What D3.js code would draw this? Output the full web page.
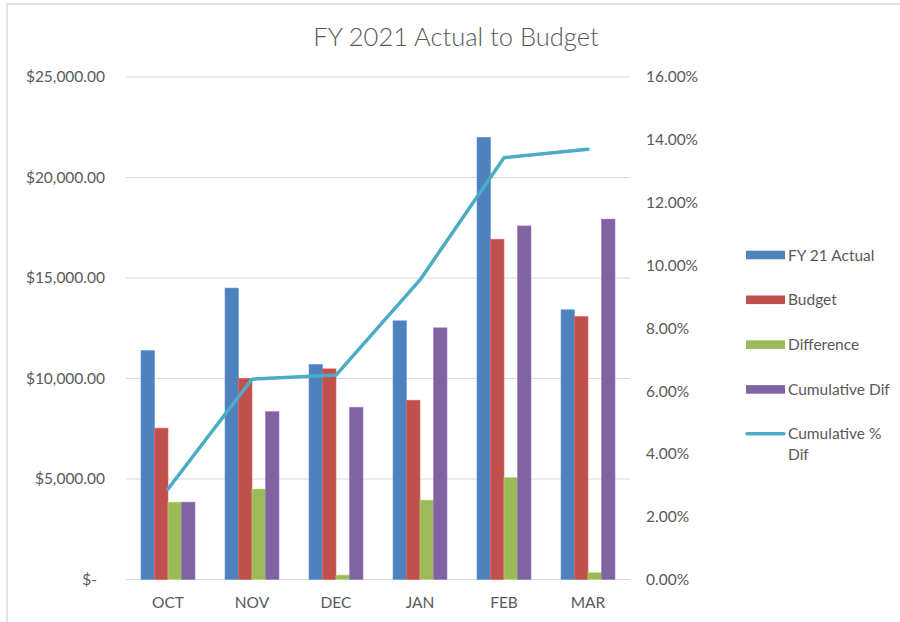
<!DOCTYPE html>
<html>
<head>
<meta charset="utf-8">
<script src="https://cdn.jsdelivr.net/npm/d3@7"></script>
<style>
  body { margin: 0; background: #fff; }
  svg { display: block; font-family: Lato, "Noto Sans", sans-serif; }
</style>
</head>
<body>
<svg id="chart" width="900" height="622"></svg>
<script>
// chart data
const months = ['OCT', 'NOV', 'DEC', 'JAN', 'FEB', 'MAR'];
const actual = [11390, 14500, 10700, 12870, 22000, 13420];
const budget = [7530, 10000, 10480, 8920, 16930, 13080];
const difference = [3850, 4500, 220, 3950, 5070, 340];
const cumulativeDif = [3850, 8350, 8570, 12520, 17590, 17930];
const cumulativePct = [0.0288, 0.0638, 0.0651, 0.0954, 0.1343, 0.1370];

const barSeries = [
  { name: 'FY 21 Actual', values: actual, color: '#4F81BD' },
  { name: 'Budget', values: budget, color: '#C0504D' },
  { name: 'Difference', values: difference, color: '#9BBB59' },
  { name: 'Cumulative Dif', values: cumulativeDif, color: '#8064A2' },
];
const lineName = 'Cumulative % Dif';
const lineColor = '#4BACC6';

const leftTicks = [0, 5000, 10000, 15000, 20000, 25000];
const rightTicks = [0, 0.02, 0.04, 0.06, 0.08, 0.10, 0.12, 0.14, 0.16];

const svg = d3.select('#chart');
const textColor = '#595959';
const gridColor = '#d9d9d9';

// outer frame of the chart area
svg.append('rect')
  .attr('x', 7).attr('y', 4)
  .attr('width', 920).attr('height', 640)
  .attr('fill', 'none')
  .attr('stroke', gridColor)
  .attr('stroke-width', 1.5);

const plot = { left: 126, right: 630, top: 77, bottom: 579.5 };

const x0 = d3.scaleBand()
  .domain(months)
  .range([plot.left, plot.right])
  .paddingInner(30 / 84)
  .paddingOuter(15 / 84);
const x1 = d3.scaleBand()
  .domain(barSeries.map(s => s.name))
  .range([0, x0.bandwidth()]);
const yLeft = d3.scaleLinear().domain([0, 25000]).range([plot.bottom, plot.top]);
const yRight = d3.scaleLinear().domain([0, 0.16]).range([plot.bottom, plot.top]);

// title
svg.append('text')
  .attr('x', 456).attr('y', 46)
  .attr('text-anchor', 'middle')
  .attr('fill', textColor)
  .style('font-size', '25.5px')
  .style('font-weight', 300)
  .text('FY 2021 Actual to Budget');

// gridlines
svg.append('g')
  .selectAll('line')
  .data(leftTicks)
  .join('line')
  .attr('x1', plot.left).attr('x2', plot.right)
  .attr('y1', d => yLeft(d)).attr('y2', d => yLeft(d))
  .attr('stroke', gridColor)
  .attr('stroke-width', 1.2);

// left axis
const fmtMoney = d => d === 0 ? '$-' : '$' + d3.format(',.2f')(d);
const leftAxis = svg.append('g')
  .attr('transform', `translate(${plot.left},0)`)
  .call(d3.axisLeft(yLeft).tickValues(leftTicks).tickFormat(fmtMoney).tickSize(0).tickPadding(21));
leftAxis.select('.domain').remove();
leftAxis.selectAll('text')
  .attr('fill', textColor)
  .attr('x', d => d === 0 ? -29 : -21)
  .style('font-size', '15.5px')
  .style('font-family', 'Lato, sans-serif');

// right axis
const rightAxis = svg.append('g')
  .attr('transform', `translate(${plot.right},0)`)
  .call(d3.axisRight(yRight).tickValues(rightTicks).tickFormat(d3.format('.2%')).tickSize(0).tickPadding(16));
rightAxis.select('.domain').remove();
rightAxis.selectAll('text')
  .attr('fill', textColor)
  .style('font-size', '15.5px')
  .style('font-family', 'Lato, sans-serif');

// category axis
const bottomAxis = svg.append('g')
  .attr('transform', `translate(0,${plot.bottom})`)
  .call(d3.axisBottom(x0).tickSize(0).tickPadding(17));
bottomAxis.select('.domain').remove();
bottomAxis.selectAll('text')
  .attr('fill', textColor)
  .style('font-size', '15.5px')
  .style('font-family', 'Lato, sans-serif');

// bars
const groups = svg.append('g')
  .selectAll('g')
  .data(months)
  .join('g')
  .attr('transform', d => `translate(${x0(d)},0)`);

groups.selectAll('rect')
  .data((m, i) => barSeries.map(s => ({ name: s.name, value: s.values[i], color: s.color })))
  .join('rect')
  .attr('x', d => x1(d.name))
  .attr('y', d => yLeft(d.value))
  .attr('width', x1.bandwidth())
  .attr('height', d => plot.bottom - yLeft(d.value))
  .attr('fill', d => d.color)
  .attr('stroke', d => d3.color(d.color).brighter(0.5))
  .attr('stroke-width', 0.6);

// cumulative % line
const line = d3.line()
  .x((d, i) => x0(months[i]) + x0.bandwidth() / 2)
  .y(d => yRight(d));
svg.append('path')
  .datum(cumulativePct)
  .attr('d', line)
  .attr('fill', 'none')
  .attr('stroke', lineColor)
  .attr('stroke-width', 3.5)
  .attr('stroke-linejoin', 'round')
  .attr('stroke-linecap', 'round');

// legend
const legend = svg.append('g')
  .attr('transform', 'translate(746,255)');
const rowGap = 44.8;

barSeries.forEach((s, i) => {
  const row = legend.append('g').attr('transform', `translate(0,${i * rowGap})`);
  row.append('rect')
    .attr('x', 0).attr('y', -4.3)
    .attr('width', 39).attr('height', 8.6)
    .attr('fill', s.color);
  row.append('text')
    .attr('x', 42).attr('y', 5.5)
    .attr('fill', textColor)
    .style('font-size', '15.5px')
    .text(s.name);
});

const lineRow = legend.append('g').attr('transform', `translate(0,${4 * rowGap - 0.5})`);
lineRow.append('line')
  .attr('x1', 1).attr('x2', 38)
  .attr('y1', 0).attr('y2', 0)
  .attr('stroke', lineColor)
  .attr('stroke-width', 3.5)
  .attr('stroke-linecap', 'round');
const lineLabel = lineRow.append('text')
  .attr('x', 42).attr('y', 5.5)
  .attr('fill', textColor)
  .style('font-size', '15.5px');
lineLabel.append('tspan').attr('x', 42).text('Cumulative %');
lineLabel.append('tspan').attr('x', 42).attr('dy', 21).text('Dif');
</script>
</body>
</html>
